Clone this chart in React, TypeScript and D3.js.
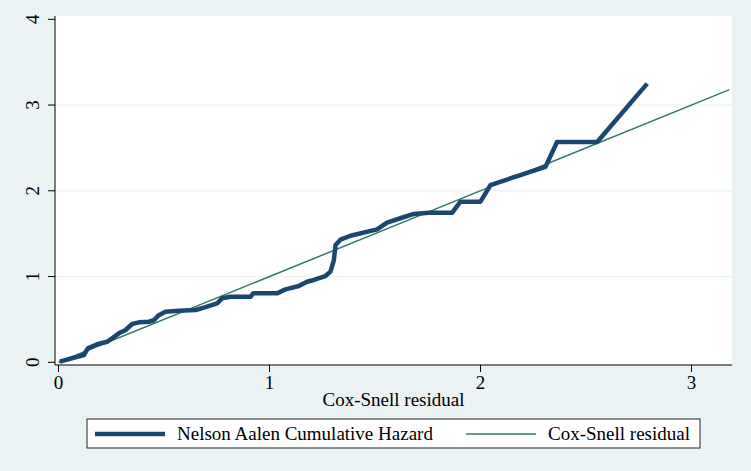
import React from "react";
import * as d3 from "d3";

const residualX: number[] = [0.006, 0.12, 0.139, 0.183, 0.231, 0.254, 0.286, 0.318, 0.349, 0.381, 0.428, 0.452, 0.475, 0.507, 0.57, 0.65, 0.689, 0.752, 0.775, 0.815, 0.91, 0.923, 1.036, 1.076, 1.139, 1.178, 1.21, 1.265, 1.289, 1.305, 1.313, 1.336, 1.384, 1.51, 1.557, 1.62, 1.684, 1.755, 1.866, 1.905, 2.0, 2.047, 2.308, 2.363, 2.553, 2.79];
const cumHazard: number[] = [0.007, 0.085, 0.163, 0.21, 0.24, 0.28, 0.338, 0.377, 0.447, 0.466, 0.473, 0.49, 0.55, 0.59, 0.6, 0.61, 0.637, 0.688, 0.746, 0.765, 0.765, 0.804, 0.804, 0.85, 0.89, 0.94, 0.96, 1.006, 1.057, 1.19, 1.368, 1.43, 1.476, 1.55, 1.63, 1.68, 1.73, 1.745, 1.745, 1.873, 1.873, 2.067, 2.28, 2.57, 2.57, 3.25];
const refLine: number[] = [0, 3.18];
const xTicks: number[] = [0, 1, 2, 3];
const yTicks: number[] = [0, 1, 2, 3, 4];
const gridTicks: number[] = [1, 2, 3];
const legendLabels: string[] = ["Nelson Aalen Cumulative Hazard", "Cox-Snell residual"];
const xTitle = "Cox-Snell residual";

const W = 751, H = 471;
const plotL = 55, plotR = 732, plotT = 16, plotB = 365;
const navy = "#1a476f";
const teal = "#2f7b68";
const bg = "#eaf2f3";
const font = "'Liberation Serif', 'Times New Roman', serif";
const fs = 19;

export default function App() {
  const x = d3.scaleLinear().domain([0, 3]).range([58.5, 691.5]);
  const y = d3.scaleLinear().domain([0, 4]).range([362.3, 19.3]);
  const pts: [number, number][] = residualX.map((v, i) => [v, cumHazard[i]]);
  const line = d3.line<[number, number]>().x(d => x(d[0])).y(d => y(d[1]));
  const refPts: [number, number][] = refLine.map(v => [v, v]);

  return (
    <svg width={W} height={H} style={{ position: "absolute", left: 0, top: 0, fontFamily: font }}>
      <rect x={0} y={0} width={W} height={H} fill={bg} />
      <rect x={plotL} y={plotT} width={plotR - plotL} height={plotB - plotT} fill="#ffffff" />
      {gridTicks.map(t => (
        <line key={"g" + t} x1={plotL} x2={plotR} y1={y(t)} y2={y(t)} stroke={bg} strokeWidth={1.2} />
      ))}
      <path d={line(refPts) || ""} fill="none" stroke={teal} strokeWidth={1.5} />
      <path d={line(pts) || ""} fill="none" stroke={navy} strokeWidth={4.5} strokeLinejoin="round" />
      <line x1={plotL} x2={plotL} y1={plotT} y2={plotB} stroke="#000" strokeWidth={1} />
      <line x1={plotL} x2={plotR} y1={plotB} y2={plotB} stroke="#000" strokeWidth={1} />
      {yTicks.map(t => (
        <g key={"y" + t}>
          <line x1={plotL - 7} x2={plotL} y1={y(t)} y2={y(t)} stroke="#000" strokeWidth={1} />
          <text transform={`translate(39,${y(t)}) rotate(-90)`} textAnchor="middle" fontSize={fs} fill="#000">{t}</text>
        </g>
      ))}
      {xTicks.map(t => (
        <g key={"x" + t}>
          <line x1={x(t)} x2={x(t)} y1={plotB} y2={plotB + 7} stroke="#000" strokeWidth={1} />
          <text x={x(t)} y={389} textAnchor="middle" fontSize={fs} fill="#000">{t}</text>
        </g>
      ))}
      <text x={(plotL + plotR) / 2} y={406} textAnchor="middle" fontSize={fs} fill="#000">{xTitle}</text>
      <rect x={87} y={419} width={613} height={29} fill="#ffffff" stroke="#222" strokeWidth={1} />
      <line x1={95} x2={165} y1={434} y2={434} stroke={navy} strokeWidth={4.5} />
      <text x={177} y={440} fontSize={fs} fill="#000">{legendLabels[0]}</text>
      <line x1={466} x2={536} y1={434} y2={434} stroke={teal} strokeWidth={1.5} />
      <text x={548} y={440} fontSize={fs} fill="#000">{legendLabels[1]}</text>
    </svg>
  );
}
